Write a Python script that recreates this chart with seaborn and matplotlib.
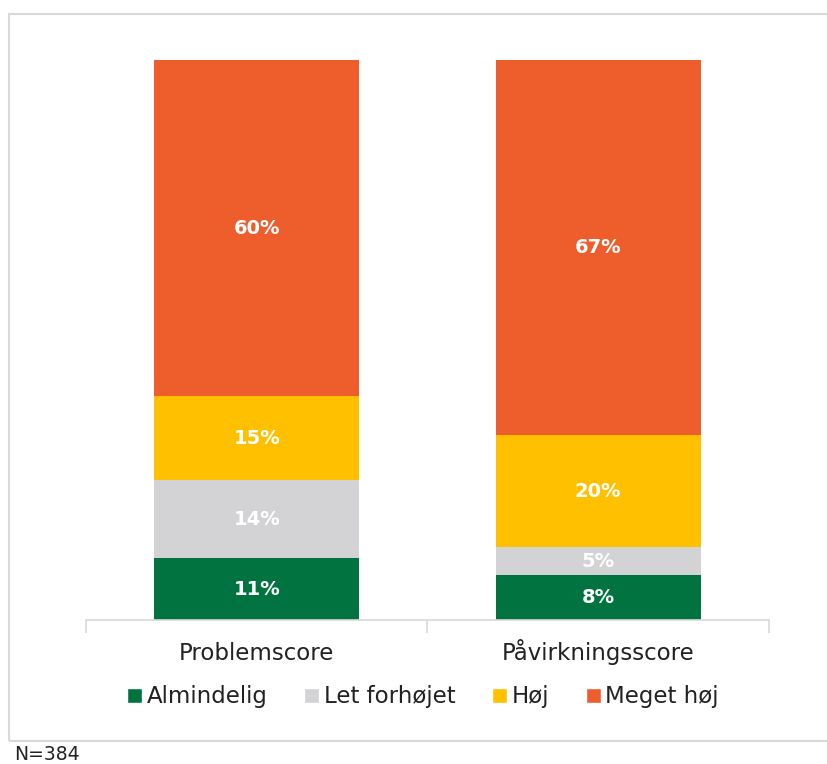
import numpy as np
import pandas as pd
import matplotlib
matplotlib.use("Agg")
import matplotlib.pyplot as plt
import seaborn as sns
from matplotlib.patches import Rectangle, Patch

scores = ["Problemscore", "Påvirkningsscore"]
levels = ["Almindelig", "Let forhøjet", "Høj", "Meget høj"]
almindelig = [11, 8]
let_forhojet = [14, 5]
hoj = [15, 20]
meget_hoj = [60, 67]
colors = ["#007340", "#D3D3D5", "#FFC000", "#EE5E2D"]
note = "N=384"

sns.set_style("white")
plt.rcParams["font.family"] = ["DejaVu Sans"]

df = pd.DataFrame({"score": scores, "Almindelig": almindelig,
                   "Let forhøjet": let_forhojet, "Høj": hoj, "Meget høj": meget_hoj})
cum = df[levels].cumsum(axis=1)

fig = plt.figure(figsize=(8.28, 7.64), dpi=100)
ax = fig.add_axes([86/828, 144/764, 683/828, 560/764])

# stacked bars: draw cumulative totals from the top layer down
for lvl, col in reversed(list(zip(levels, colors))):
    sns.barplot(x=df["score"], y=cum[lvl], color=col, width=0.6, saturation=1,
                errorbar=None, linewidth=0, ax=ax)

for i in range(len(scores)):
    bottom = 0
    for lvl in levels:
        v = df[lvl][i]
        ax.text(i, bottom + v/2, f"{v}%", ha="center", va="center",
                color="white", fontsize=14, fontweight="bold")
        bottom += v

ax.set_xlim(-0.5, 1.5)
ax.set_ylim(0, 100)
ax.set_xlabel("")
ax.set_ylabel("")
ax.set_yticks([])
for s in ["top", "left", "right"]:
    ax.spines[s].set_visible(False)
ax.spines["bottom"].set_color("#D9D9D9")
ax.spines["bottom"].set_linewidth(1.2)
ax.set_xticks([-0.5, 0.5, 1.5], minor=True)
ax.tick_params(axis="x", which="minor", bottom=True, length=9, color="#D9D9D9", width=1.2)
ax.tick_params(axis="x", which="major", length=0, pad=29, labelsize=16.5, labelcolor="#222222")
for lbl in ax.get_xticklabels():
    lbl.set_va("baseline")

handles = [Patch(facecolor=c, label=l) for l, c in zip(levels, colors)]
fig.legend(handles=handles, loc="center", bbox_to_anchor=(423/828, 1 - 697/764), ncol=4,
           frameon=False, handlelength=0.65, handleheight=0.65, handletextpad=0.2,
           columnspacing=1.6, fontsize=16.5, labelcolor="#222222")

fig.add_artist(Rectangle((9/828, 1 - 741/764), 830/828, (741 - 14)/764,
                         transform=fig.transFigure, fill=False,
                         edgecolor="#D9D9D9", lw=1.5))
fig.text(14/828, 1 - 754/764, note, ha="left", va="center", fontsize=13.5, color="#222222")

fig.savefig("out.png", dpi=100)
